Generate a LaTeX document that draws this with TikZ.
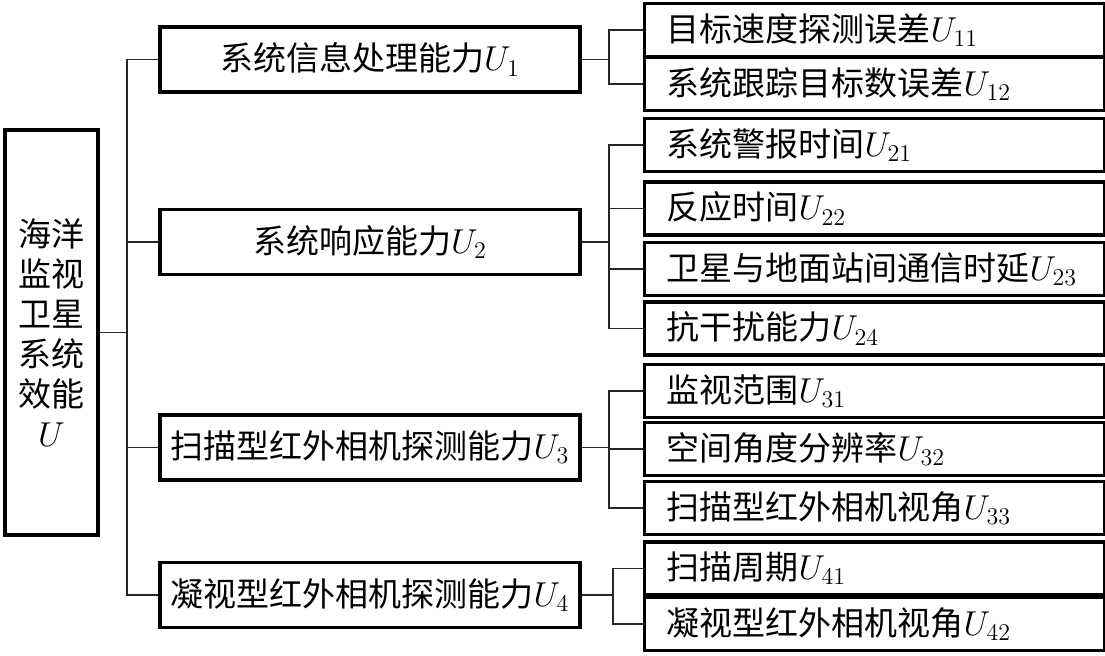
\documentclass[tikz,border=0pt]{standalone}
\usepackage{fontspec}
\newfontfamily\cjk{Noto Sans CJK SC}
\usetikzlibrary{calc}

\begin{document}
\begin{tikzpicture}[
  x=0.5pt, y=-0.5pt,
  font=\cjk\fontsize{16.5pt}{19pt}\selectfont,
  box/.style={rectangle, draw=black, line width=1.6pt, inner sep=0pt},
  root/.style={box, minimum width=46.5pt, minimum height=202.5pt, align=center,
               font=\cjk\fontsize{16.5pt}{20pt}\selectfont},
  crit/.style={box, minimum width=210pt, minimum height=32.5pt, align=center},
  leaf/.style={box, anchor=west, text width=208pt, inner xsep=11pt,
               minimum height=26.5pt, align=left},
  link/.style={draw=black!85, line width=0.9pt},
]
\useasboundingbox (0,0) rectangle (1105,655);

% ---- root ----
\node[root] (U) at (51.5,332.5) {海洋\\监视\\卫星\\系统\\效能\\$U$};

% ---- criteria ----
\node[crit] (U1) at (370,59.5)  {系统信息处理能力$U_{1}$};
\node[crit] (U2) at (370,242)   {系统响应能力$U_{2}$};
\node[crit] (U3) at (370,447.5) {扫描型红外相机探测能力$U_{3}$};
\node[crit] (U4) at (370,595)   {凝视型红外相机探测能力$U_{4}$};

% ---- indicators ----
\node[leaf] (U11) at (643,30)    {目标速度探测误差$U_{11}$};
\node[leaf] (U12) at (643,84)    {系统跟踪目标数误差$U_{12}$};
\node[leaf] (U21) at (643,145)   {系统警报时间$U_{21}$};
\node[leaf] (U22) at (643,208.5) {反应时间$U_{22}$};
\node[leaf] (U23) at (643,269)   {卫星与地面站间通信时延$U_{23}$};
\node[leaf] (U24) at (643,328.5) {抗干扰能力$U_{24}$};
\node[leaf] (U31) at (643,391)   {监视范围$U_{31}$};
\node[leaf] (U32) at (643,449)   {空间角度分辨率$U_{32}$};
\node[leaf] (U33) at (643,508)   {扫描型红外相机视角$U_{33}$};
\node[leaf] (U41) at (643,568.5) {扫描周期$U_{41}$};
\node[leaf] (U42) at (643,624)   {凝视型红外相机视角$U_{42}$};

% ---- junctions ----
\coordinate (Uj)  at (127,332.5);
\coordinate (U1j) at (609,59.5);
\coordinate (U2j) at (609,242);
\coordinate (U3j) at (609,447.5);
\coordinate (U4j) at (613,595);

% ---- links ----
\foreach \n in {U1,U2,U3,U4}
  \draw[link] (U.east) -- (Uj) |- (\n.west);
\foreach \n in {U11,U12}
  \draw[link] (U1.east) -- (U1j) |- (\n.west);
\foreach \n in {U21,U22,U23,U24}
  \draw[link] (U2.east) -- (U2j) |- (\n.west);
\foreach \n in {U31,U32,U33}
  \draw[link] (U3.east) -- (U3j) |- (\n.west);
\foreach \n in {U41,U42}
  \draw[link] (U4.east) -- (U4j) |- (\n.west);
\end{tikzpicture}
\end{document}
